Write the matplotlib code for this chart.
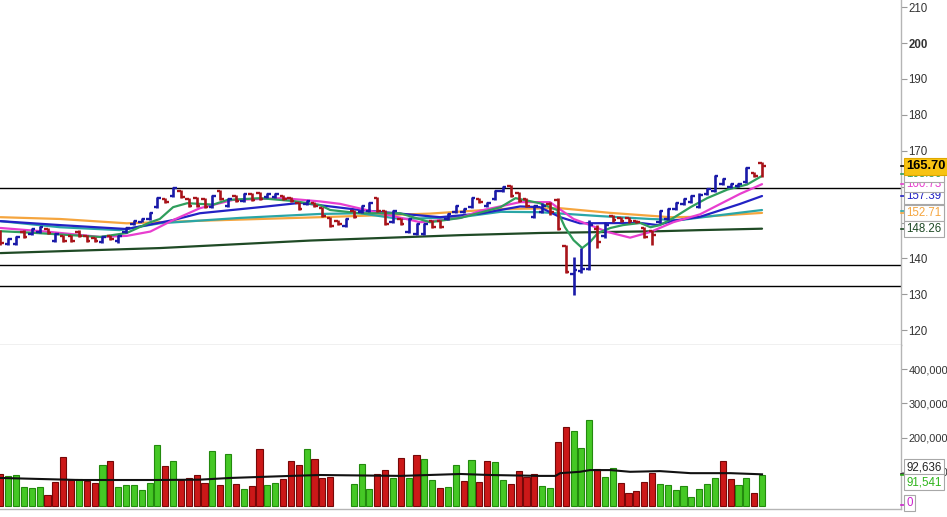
import numpy as np
import matplotlib
matplotlib.use("Agg")
import matplotlib.pyplot as plt
import matplotlib.transforms as mtransforms
from matplotlib.ticker import FuncFormatter

plt.rcParams['font.family'] = ['Liberation Sans', 'DejaVu Sans']

# OHLC price bars (one per session, left to right)
opens = [147.4, 144.0, 144.0, 147.5, 146.8, 147.3, 148.2, 145.0, 146.2, 146.2,
         147.5, 146.2, 145.8, 144.6, 146.3, 144.8, 147.3, 149.5, 150.3, 151.0,
         154.3, 156.6, 157.4, 158.8, 156.5, 156.8, 156.5, 154.3, 158.8, 154.6,
         157.4, 156.0, 158.0, 158.2, 157.0, 157.0, 157.5, 156.9, 155.4, 155.1,
         155.5, 154.0, 151.2, 150.5, 149.0, 153.2, 152.9, 153.2, 156.8, 153.2,
         150.2, 151.0, 147.4, 146.8, 146.8, 150.4, 150.4, 151.0, 152.9, 152.9,
         154.3, 156.6, 154.6, 156.5, 158.8, 160.2, 158.2, 156.5, 151.6, 153.0,
         155.2, 156.3, 143.4, 135.6, 136.5, 137.0, 148.2, 146.2, 151.8, 151.3,
         151.3, 150.5, 148.4, 147.6, 150.2, 151.0, 153.8, 155.2, 155.7, 154.3,
         158.0, 158.8, 160.8, 159.9, 160.2, 161.3, 163.8, 166.6]
highs = [147.9, 145.7, 146.3, 147.9, 148.5, 149.0, 148.5, 147.1, 146.5, 146.5,
         147.9, 146.5, 146.0, 146.2, 146.5, 146.5, 148.7, 150.7, 151.2, 152.9,
         157.1, 156.8, 159.9, 159.0, 156.8, 157.1, 156.8, 157.7, 159.0, 156.8,
         157.7, 158.2, 158.2, 158.5, 158.2, 158.2, 157.7, 157.1, 155.7, 156.3,
         155.7, 154.3, 151.5, 150.7, 151.3, 153.5, 154.9, 155.7, 157.1, 153.5,
         153.5, 151.3, 151.3, 149.9, 149.9, 150.7, 150.7, 152.6, 154.9, 154.0,
         157.1, 156.8, 155.7, 159.0, 160.2, 160.5, 158.5, 156.8, 154.9, 155.4,
         155.7, 156.8, 143.7, 140.4, 143.0, 150.7, 149.3, 150.1, 152.1, 151.5,
         151.5, 150.7, 148.7, 147.9, 153.5, 154.0, 155.7, 156.8, 157.7, 158.2,
         159.6, 163.2, 162.4, 161.0, 161.0, 165.5, 164.1, 166.9]
lows = [143.7, 143.7, 143.7, 145.7, 146.5, 147.0, 146.8, 144.6, 144.6, 144.6,
        146.0, 144.6, 144.6, 144.3, 145.1, 144.3, 147.0, 149.3, 150.1, 150.7,
        154.0, 155.4, 157.1, 156.8, 154.3, 154.3, 154.0, 154.0, 156.3, 154.3,
        155.7, 155.7, 156.0, 156.3, 156.8, 156.8, 156.3, 155.7, 153.5, 154.9,
        154.3, 151.5, 148.7, 149.3, 148.7, 151.2, 152.6, 152.9, 152.9, 149.3,
        149.9, 149.3, 147.1, 146.5, 146.5, 148.5, 148.5, 150.7, 152.6, 152.6,
        154.0, 155.4, 154.3, 156.3, 158.5, 157.1, 155.7, 154.3, 151.3, 152.6,
        152.1, 147.9, 135.9, 129.8, 135.9, 136.8, 142.9, 145.7, 150.1, 150.1,
        149.9, 149.9, 145.7, 143.7, 149.9, 150.7, 153.5, 154.9, 155.4, 154.0,
        157.7, 158.5, 160.5, 159.6, 159.9, 161.0, 162.7, 162.7]
closes = [144.3, 145.4, 146.0, 146.0, 148.2, 148.7, 147.0, 146.8, 145.0, 145.0,
          146.3, 145.0, 145.0, 146.0, 145.3, 146.2, 148.5, 150.5, 151.0, 152.7,
          156.8, 155.6, 159.6, 157.0, 154.6, 154.6, 154.3, 157.4, 156.5, 156.5,
          156.0, 158.0, 156.3, 156.5, 158.0, 158.0, 156.5, 155.9, 153.8, 156.0,
          154.6, 151.8, 149.0, 149.6, 151.0, 151.5, 154.6, 155.4, 153.2, 149.6,
          153.2, 149.6, 151.0, 149.6, 149.6, 148.8, 148.8, 152.3, 154.6, 153.8,
          156.8, 155.7, 155.4, 158.8, 160.0, 157.4, 156.0, 154.6, 154.6, 154.6,
          153.0, 148.2, 136.2, 136.8, 137.2, 149.3, 144.6, 149.2, 150.7, 150.4,
          150.4, 150.1, 146.0, 146.5, 153.2, 153.7, 155.4, 156.5, 157.4, 157.7,
          159.3, 162.9, 162.1, 160.7, 160.7, 165.2, 163.0, 165.7]

# volume in thousands (two sessions without volume)
volumes = [93.6, 87.7, 89.7, 54.6, 51.6, 54.6, 31.2, 71.2, 142.3, 76.0,
           78.0, 73.0, 66.3, 118.9, 130.6, 54.6, 60.4, 60.4, 46.8, 66.3,
           177.4, 116.0, 130.6, 75.0, 80.9, 89.7, 66.3, 159.8, 60.4, 151.0,
           63.4, 48.7, 57.5, 165.6, 60.4, 66.3, 79.9, 130.6, 118.9, 165.6,
           136.4, 80.9, 85.8, np.nan, np.nan, 64.3, 122.8, 49.7, 93.6, 105.3,
           81.9, 139.4, 81.9, 148.1, 136.4, 76.0, 52.6, 55.6, 118.9, 73.0,
           134.5, 70.2, 130.6, 128.7, 76.0, 63.4, 102.3, 84.8, 92.6, 58.5,
           52.6, 187.1, 230.0, 219.3, 169.6, 251.5, 107.2, 84.8, 111.1, 68.2,
           39.0, 44.8, 70.2, 97.5, 64.3, 61.4, 46.8, 58.5, 25.3, 48.7,
           64.3, 81.9, 130.6, 78.0, 60.4, 81.9, 37.0, 91.5]
vol_dir = ("RGGGGGRRRR" "GRRGRGGGGG" "GRGRRRRGRG" "RGRRGGRRRG" "RRR--GGGRR"
           "GRGRGGRGGR" "GRRGGRRRRG" "GRRGGGRGGR" "RRRRGGGGGG" "GGRRGGRG")

# moving averages: (bar index, value)
ma_green = [(0, 147.6), (3.8, 147.2), (12.7, 146.0), (16.1, 147.1), (19.1, 150.1), (20.3, 151.0),
            (22, 154.3), (23.8, 155.4), (27.1, 155.0), (28.9, 156.3), (33.1, 156.8), (37.3, 156.0),
            (40.7, 154.9), (42, 153.5), (45.8, 152.6), (50.9, 152.6), (54.7, 150.1), (58.6, 151.3),
            (63.7, 154.3), (65.6, 156.8), (68.7, 155.4), (70.9, 153.5), (71.9, 148.7), (73, 145.1),
            (74.1, 142.9), (75.1, 144.6), (76.1, 147.1), (77.7, 148.5), (79.3, 149.3), (81.5, 149.9),
            (82.8, 148.7), (84, 149.3), (85.7, 151.3), (87.9, 154.3), (90, 156.8), (92.6, 159.2),
            (95.1, 160.6), (97, 163.0)]
ma_magenta = [(0, 148.5), (6.3, 147.4), (12.7, 146.0), (16.1, 146.3), (19.1, 147.5), (22, 150.7),
              (25.4, 154.0), (29.6, 156.3), (36, 156.8), (40.7, 155.9), (43.3, 155.2), (48.4, 152.6),
              (53.5, 150.1), (58.6, 151.3), (61.1, 153.3), (66.2, 155.7), (70, 155.7), (73, 151.0),
              (75.1, 149.3), (77.3, 147.4), (80.2, 145.8), (82.8, 147.4), (85.7, 150.1), (89.1, 152.3),
              (94.2, 158.0), (97, 160.7)]
ma_blue = [(0, 150.4), (7.6, 149.3), (16.1, 148.2), (22, 150.7), (25.4, 152.6), (33.1, 154.3),
           (38.2, 155.5), (45.8, 153.5), (56, 151.5), (61.1, 152.5), (66.2, 154.5), (68.7, 154.3),
           (71.3, 151.5), (73.8, 149.8), (81.5, 149.9), (83.7, 149.3), (85.7, 150.5), (89.1, 151.6),
           (94.2, 155.2), (97, 157.4)]
ma_teal = [(0, 150.4), (7.6, 148.7), (15.2, 147.9), (20.3, 149.8), (30.5, 151.3), (40.7, 152.4),
           (45.8, 152.6), (50.9, 151.0), (58.6, 151.5), (63.7, 153.0), (68.7, 152.9), (76.4, 151.8),
           (82.8, 151.0), (86.6, 150.7), (89.1, 151.4), (97, 153.5)]
ma_orange = [(0, 151.5), (7.6, 151.0), (16.1, 149.8), (25.4, 150.5), (40.7, 151.5), (54.7, 152.5),
             (63.7, 153.8), (71.3, 154.0), (77.7, 152.7), (85.3, 151.5), (89.1, 151.6), (97, 152.7)]
ma_dkgreen = [(0, 141.5), (20.3, 142.9), (39.5, 145.0), (58.6, 146.5), (68.7, 147.1), (84, 147.6),
              (89.1, 147.9), (97, 148.3)]
vol_ma = [(0, 82), (5, 79), (10, 76), (20, 76), (25.4, 77), (29.3, 82), (37, 88), (40.7, 90.6),
          (51, 88), (58.6, 93.6), (62.4, 90.6), (68.7, 88), (70.7, 88), (71.3, 96), (73.8, 100),
          (75.1, 105), (77.7, 105), (80.2, 100), (84, 102), (87.9, 96), (93, 96), (97, 92.6)]

levels = [159.6, 138.2, 132.4]
price_ticks = [120, 130, 140, 150, 160, 170, 180, 190, 200, 210]

x = np.arange(len(closes))
W, H = 947, 517
fig = plt.figure(figsize=(W / 100, H / 100), dpi=100)
ax = fig.add_axes([0, (H - 345) / H, 901 / W, 345 / H])
axv = fig.add_axes([0, (H - 509) / H, 901 / W, 164 / H], sharex=ax)

for a in (ax, axv):
    a.set_facecolor('white')
    for s in ('top', 'left'):
        a.spines[s].set_visible(False)
    for s in ('right', 'bottom'):
        a.spines[s].set_color('#b5b5b5')
        a.spines[s].set_linewidth(1)
    a.yaxis.tick_right()
    a.tick_params(axis='y', direction='out', length=4, color='#999999',
                  labelsize=8.3, labelcolor='#333333', pad=1.5)
    a.tick_params(axis='x', bottom=False, labelbottom=False)
axv.tick_params(axis='y', labelsize=7.9)

ax.set_xlim(-0.05, 114.7)
ax.set_ylim(115.9, 212.0)
ax.set_yticks(price_ticks)
for lbl in ax.get_yticklabels():
    if lbl.get_text() == '200':
        lbl.set_fontweight('bold')

# horizontal levels
for lv in levels:
    ax.axhline(lv, color='black', lw=1, zorder=1)

# moving averages
for pts, col in [(ma_dkgreen, '#1f4a25'), (ma_orange, '#f5a53e'), (ma_teal, '#2aa6a6'),
                 (ma_blue, '#2222c4'), (ma_magenta, '#e83ecf'), (ma_green, '#2f9e5c')]:
    px, py = zip(*pts)
    ax.plot(px, py, color=col, lw=1.6, zorder=2, solid_capstyle='round')

# OHLC bars
o = np.array(opens)
c = np.array(closes)
cols = np.where(c >= o, '#1a1aa8', '#a8141a')
tk = 0.45
ax.vlines(x, lows, highs, colors=cols, lw=1.9, zorder=3)
ax.hlines(o, x - tk, x, colors=cols, lw=1.7, zorder=3)
ax.hlines(c, x, x + tk, colors=cols, lw=1.7, zorder=3)

# volume
v = np.array(volumes) * 1000
up = np.array([d == 'G' for d in vol_dir])
axv.bar(x[up], v[up], width=0.78, color='#45c825', edgecolor='#238a0e', lw=0.8, zorder=2)
dn = np.array([d == 'R' for d in vol_dir])
axv.bar(x[dn], v[dn], width=0.78, color='#cc1818', edgecolor='#760808', lw=0.8, zorder=2)
vx, vy = zip(*vol_ma)
axv.plot(vx, np.array(vy) * 1000, color='#111111', lw=1.5, zorder=3)
axv.set_ylim(-8800, 470800)
axv.set_yticks([100000, 200000, 300000, 400000])
axv.yaxis.set_major_formatter(FuncFormatter(lambda val, pos: f"{int(val):,}"))


def tag(a, y, text, color, fc='white', ec='#a8a8a8', bold=False, dash=None, z=5, fs=8.3):
    tr = mtransforms.blended_transform_factory(a.transAxes, a.transData)
    a.plot([1.0, 1.006], [dash if dash is not None else y] * 2, transform=tr,
           color=color, lw=1.2, clip_on=False, zorder=z)
    a.annotate(text, xy=(1.0, y), xycoords=tr, xytext=(4, 0), textcoords='offset points',
               ha='left', va='center', color='black' if bold else color, fontsize=fs,
               fontweight='bold' if bold else 'normal', annotation_clip=False, zorder=z,
               bbox=dict(boxstyle='square,pad=0.2', fc=fc, ec=ec, lw=0.8))


tag(ax, 153.1, '153.31', '#2aa6a6', z=5)
tag(ax, 152.71, '152.71', '#f5a53e', z=6)
tag(ax, 148.26, '148.26', '#1f4a25', z=6)
tag(ax, 157.39, '157.39', '#2222c4', z=6)
tag(ax, 160.73, '160.73', '#e83ecf', z=6)
tag(ax, 163.56, '163.56', '#2f9e5c', z=6)
tag(ax, 165.70, '165.70', '#000000', fc='#f7c312', ec='#e0a800', bold=True, z=8, fs=9.3)

tag(axv, 112000, '92,636', '#222222', dash=92636, z=6)
tag(axv, 70000, '91,541', '#2fb51c', dash=91541, z=6)
tag(axv, 9000, '0', '#cc22cc', dash=4000, z=6)

fig.savefig('out.png', dpi=100)
